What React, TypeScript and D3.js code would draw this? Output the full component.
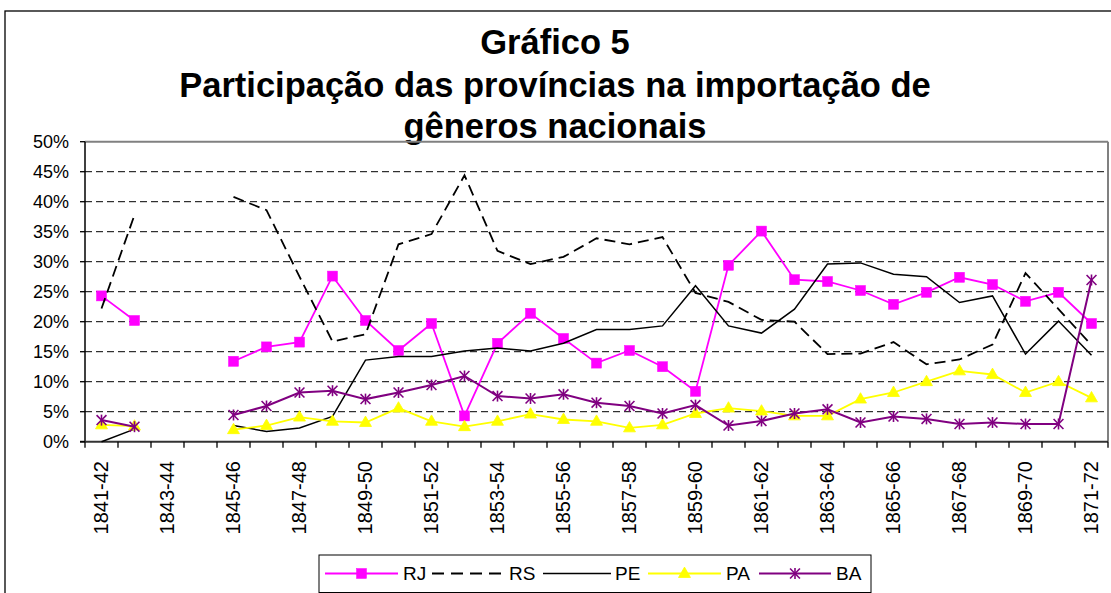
import React from "react";
import * as d3 from "d3";

const categories: string[] = [
  "1841-42", "1842-43", "1843-44", "1844-45", "1845-46", "1846-47", "1847-48", "1848-49",
  "1849-50", "1850-51", "1851-52", "1852-53", "1853-54", "1854-55", "1855-56", "1856-57",
  "1857-58", "1858-59", "1859-60", "1860-61", "1861-62", "1862-63", "1863-64", "1864-65",
  "1865-66", "1866-67", "1867-68", "1868-69", "1869-70", "1870-71", "1871-72",
];

const RJ: (number | null)[] = [
  24.3, 20.2, null, null, 13.4, 15.8, 16.6, 27.6, 20.2, 15.2, 19.7, 4.3, 16.4, 21.4, 17.2, 13.1,
  15.2, 12.5, 8.4, 29.4, 35.1, 27.0, 26.7, 25.2, 22.9, 24.9, 27.4, 26.2, 23.4, 24.9, 19.7,
];
const RS: (number | null)[] = [
  22.2, 37.8, null, null, 40.8, 38.6, 27.5, 16.7, 17.9, 32.9, 34.6, 44.4, 31.8, 29.6, 30.8, 33.9,
  32.9, 34.1, 24.8, 23.3, 20.3, 20.0, 14.6, 14.7, 16.6, 12.9, 13.7, 16.2, 28.1, 22.1, 16.1,
];
const PE: (number | null)[] = [
  0.0, 2.1, null, null, 2.7, 1.7, 2.3, 4.2, 13.6, 14.2, 14.2, 15.1, 15.6, 15.1, 16.4, 18.7,
  18.7, 19.3, 26.0, 19.3, 18.1, 22.1, 29.6, 29.8, 27.9, 27.5, 23.2, 24.3, 14.6, 20.1, 14.4,
];
const PA: (number | null)[] = [
  2.8, 2.6, null, null, 2.0, 2.7, 4.1, 3.4, 3.2, 5.6, 3.4, 2.5, 3.4, 4.6, 3.7, 3.4,
  2.3, 2.8, 4.7, 5.6, 5.1, 4.3, 4.3, 7.1, 8.2, 10.0, 11.8, 11.2, 8.2, 10.0, 7.3,
];
const BA: (number | null)[] = [
  3.6, 2.5, null, null, 4.45, 5.95, 8.2, 8.5, 7.1, 8.2, 9.45, 10.95, 7.6, 7.2, 7.9, 6.5,
  5.95, 4.7, 6.1, 2.7, 3.45, 4.7, 5.4, 3.2, 4.2, 3.8, 2.95, 3.2, 2.95, 2.95, 26.95,
];

const yTicks: number[] = [0, 5, 10, 15, 20, 25, 30, 35, 40, 45, 50];
const titleLines: string[] = [
  "Gráfico 5",
  "Participação das províncias na importação de",
  "gêneros nacionais",
];

type Marker = "square" | "triangle" | "asterisk" | "none";
interface Series {
  name: string;
  values: (number | null)[];
  color: string;
  width: number;
  dash?: string;
  marker: Marker;
}

const series: Series[] = [
  { name: "RJ", values: RJ, color: "#FF00FF", width: 1.8, marker: "square" },
  { name: "RS", values: RS, color: "#000000", width: 1.8, dash: "11,6", marker: "none" },
  { name: "PE", values: PE, color: "#000000", width: 1.5, marker: "none" },
  { name: "PA", values: PA, color: "#FFFF00", width: 1.8, marker: "triangle" },
  { name: "BA", values: BA, color: "#800080", width: 2, marker: "asterisk" },
];

const FONT = "'Liberation Sans', Arial, sans-serif";

function MarkerShape({ type, x, y, color }: { type: Marker; x: number; y: number; color: string }) {
  if (type === "square") {
    return <rect x={x - 5} y={y - 5} width={10} height={10} fill={color} stroke={color} strokeWidth={0.5} />;
  }
  if (type === "triangle") {
    const tri = d3.symbol().type(d3.symbolTriangle).size(62)();
    return <path d={tri || ""} transform={`translate(${x},${y + 0.5})`} fill={color} stroke={color} strokeWidth={0.8} />;
  }
  if (type === "asterisk") {
    const r = 5.5;
    return (
      <g stroke={color} strokeWidth={1.6}>
        <line x1={x} y1={y - r} x2={x} y2={y + r} />
        <line x1={x - r * 0.9} y1={y - r * 0.9} x2={x + r * 0.9} y2={y + r * 0.9} />
        <line x1={x - r * 0.9} y1={y + r * 0.9} x2={x + r * 0.9} y2={y - r * 0.9} />
      </g>
    );
  }
  return null;
}

export default function App() {
  const W = 1111;
  const H = 593;
  const left = 85;
  const right = 1108;
  const top = 141.7;
  const bottom = 441.7;

  const x = d3.scaleBand<string>().domain(categories).range([left, right]).padding(0);
  const bw = x.bandwidth();
  const cx = (c: string) => (x(c) as number) + bw / 2;
  const y = d3.scaleLinear().domain([0, 50]).range([bottom, top]);

  const line = d3
    .line<number | null>()
    .defined((d) => d !== null)
    .x((_, i) => cx(categories[i]))
    .y((d) => y(d as number));

  const boundaries = categories.map((c) => x(c) as number).concat([right]);

  const legendY = 573.5;
  const legendItems = [
    { s: series[0], x0: 325, x1: 398, textX: 403 },
    { s: series[1], x0: 432, x1: 504, textX: 509 },
    { s: series[2], x0: 543, x1: 611, textX: 615 },
    { s: series[3], x0: 648, x1: 721, textX: 726 },
    { s: series[4], x0: 759, x1: 831, textX: 836 },
  ];

  return (
    <svg
      width={W}
      height={H}
      style={{ position: "absolute", left: 0, top: 0, background: "#fff" }}
      fontFamily={FONT}
    >
      <rect x={0} y={0} width={W} height={H} fill="#fff" />
      {/* outer frame */}
      <rect x={5} y={11} width={1130} height={620} fill="none" stroke="#000" strokeWidth={1.3} />

      {/* title */}
      {titleLines.map((t, i) => (
        <text
          key={t}
          x={555}
          y={[54, 97, 138][i]}
          textAnchor="middle"
          fontSize={34.5}
          fontWeight="bold"
          fill="#000"
        >
          {t}
        </text>
      ))}

      {/* grid */}
      {yTicks
        .filter((t) => t > 0 && t < 50)
        .map((t) => (
          <line
            key={"g" + t}
            x1={left}
            x2={right}
            y1={y(t)}
            y2={y(t)}
            stroke="#000"
            strokeWidth={1}
            strokeDasharray="7,4"
          />
        ))}

      {/* plot border top/right */}
      <line x1={left} x2={right} y1={top} y2={top} stroke="#808080" strokeWidth={2} />
      <line x1={right} x2={right} y1={top} y2={bottom} stroke="#808080" strokeWidth={2} />

      {/* axes */}
      <line x1={left} x2={left} y1={top} y2={bottom} stroke="#000" strokeWidth={1.5} />
      <line x1={left - 5} x2={right} y1={bottom} y2={bottom} stroke="#333" strokeWidth={2} />
      {yTicks.map((t) => (
        <g key={"yt" + t}>
          <line x1={left - 5} x2={left} y1={y(t)} y2={y(t)} stroke="#000" strokeWidth={1.3} />
          <text x={69} y={y(t)} textAnchor="end" dominantBaseline="central" fontSize={18} fill="#000">
            {t}%
          </text>
        </g>
      ))}
      {boundaries.map((b, i) => (
        <line key={"xt" + i} x1={b} x2={b} y1={bottom} y2={bottom + 6} stroke="#000" strokeWidth={1.3} />
      ))}
      {categories.map((c, i) =>
        i % 2 === 0 ? (
          <text
            key={"xl" + c}
            transform={`translate(${cx(c) - 1},${461}) rotate(-90)`}
            textAnchor="end"
            dominantBaseline="central"
            fontSize={20}
            fill="#000"
          >
            {c}
          </text>
        ) : null
      )}

      {/* series */}
      {series.map((s) => (
        <g key={s.name}>
          <path
            d={line(s.values) || ""}
            fill="none"
            stroke={s.color}
            strokeWidth={s.width}
            strokeDasharray={s.dash}
          />
          {s.values.map((v, i) =>
            v === null ? null : (
              <MarkerShape key={i} type={s.marker} x={cx(categories[i])} y={y(v)} color={s.color} />
            )
          )}
        </g>
      ))}

      {/* legend */}
      <rect x={319} y={555} width={552} height={37.5} fill="#fff" stroke="#000" strokeWidth={1} />
      {legendItems.map(({ s, x0, x1, textX }) => (
        <g key={"lg" + s.name}>
          <line
            x1={x0}
            x2={x1}
            y1={legendY}
            y2={legendY}
            stroke={s.color}
            strokeWidth={s.width}
            strokeDasharray={s.dash ? "12,7" : undefined}
          />
          <MarkerShape type={s.marker} x={(x0 + x1) / 2} y={legendY} color={s.color} />
          <text x={textX} y={legendY} dominantBaseline="central" fontSize={19} fill="#000">
            {s.name}
          </text>
        </g>
      ))}
    </svg>
  );
}
